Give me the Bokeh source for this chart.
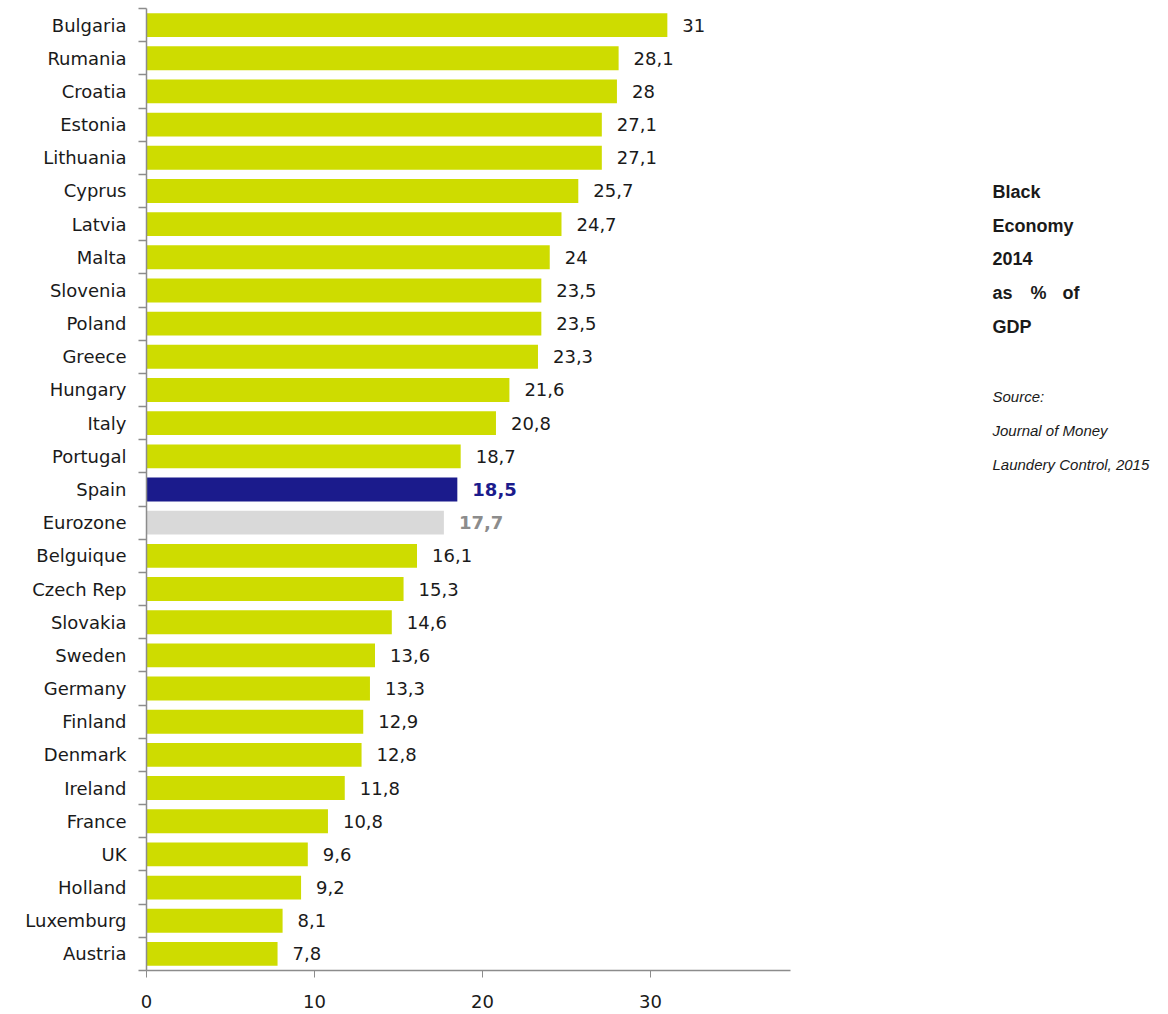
from bokeh.plotting import figure
from bokeh.models import ColumnDataSource, FixedTicker, Range1d
from bokeh.layouts import row
from bokeh.core.properties import value
from bokeh.embed import file_html
from bokeh.resources import INLINE

countries = ["Bulgaria", "Rumania", "Croatia", "Estonia", "Lithuania", "Cyprus", "Latvia",
             "Malta", "Slovenia", "Poland", "Greece", "Hungary", "Italy", "Portugal", "Spain",
             "Eurozone", "Belguique", "Czech Rep", "Slovakia", "Sweden", "Germany", "Finland",
             "Denmark", "Ireland", "France", "UK", "Holland", "Luxemburg", "Austria"]
values = [31, 28.1, 28, 27.1, 27.1, 25.7, 24.7, 24, 23.5, 23.5, 23.3, 21.6, 20.8, 18.7, 18.5,
          17.7, 16.1, 15.3, 14.6, 13.6, 13.3, 12.9, 12.8, 11.8, 10.8, 9.6, 9.2, 8.1, 7.8]
x_ticks = [0, 10, 20, 30]
title_lines = ["Black", "Economy", "2014", "GDP"]
title_words = ["as", "%", "of"]
source_lines = ["Source:", "Journal of Money", "Laundery Control, 2015"]

GREEN = "#CEDC00"
NAVY = "#1B1B8C"
GREY_BAR = "#D9D9D9"
MAIN_FONT = "DejaVu Sans"

n = len(countries)
ypos = [n - i - 0.5 for i in range(n)]
colors, label_colors, styles, labels = [], [], [], []
for c, v in zip(countries, values):
    labels.append(("%g" % v).replace(".", ","))
    if c == "Spain":
        colors.append(NAVY); label_colors.append(NAVY); styles.append("bold")
    elif c == "Eurozone":
        colors.append(GREY_BAR); label_colors.append("#8C8C8C"); styles.append("bold")
    else:
        colors.append(GREEN); label_colors.append("#1A1A1A"); styles.append("normal")

src = ColumnDataSource(dict(y=ypos, v=values, c=colors, lc=label_colors, fs=styles, lab=labels))

TOP, BOTTOM, H = 8, 44, 1014

p = figure(width=800, height=H, output_backend="svg", toolbar_location=None,
           x_range=Range1d(0, 38.33), y_range=Range1d(0, n),
           min_border_left=146, min_border_right=10, min_border_top=TOP, min_border_bottom=BOTTOM)
p.outline_line_color = None
p.xgrid.visible = False
p.ygrid.visible = False
p.background_fill_color = "white"

p.hbar(y="y", left=0, right="v", height=0.72, color="c", line_color=None, source=src)
p.text(x="v", y="y", text="lab", x_offset=15, text_align="left", text_baseline="middle",
       text_color="lc", text_font_style="fs", text_font=value(MAIN_FONT),
       text_font_size="18px", source=src)

AX = "#8C8C8C"
p.xaxis.ticker = FixedTicker(ticks=x_ticks)
p.xaxis.axis_line_color = AX
p.xaxis.axis_line_width = 1.5
p.xaxis.major_tick_line_color = AX
p.xaxis.major_tick_out = 7
p.xaxis.major_tick_in = 0
p.xaxis.minor_tick_line_color = None
p.xaxis.major_label_text_font = MAIN_FONT
p.xaxis.major_label_text_font_size = "18px"
p.xaxis.major_label_text_color = "#1A1A1A"
p.xaxis.major_label_standoff = 17

p.yaxis.ticker = FixedTicker(ticks=ypos, minor_ticks=list(range(n + 1)))
p.yaxis.major_label_overrides = {y: c for y, c in zip(ypos, countries)}
p.yaxis.axis_line_color = AX
p.yaxis.axis_line_width = 1.5
p.yaxis.major_tick_line_color = None
p.yaxis.major_tick_out = 0
p.yaxis.major_tick_in = 0
p.yaxis.minor_tick_line_color = AX
p.yaxis.minor_tick_out = 8
p.yaxis.minor_tick_in = 0
p.yaxis.minor_tick_line_width = 1.5
p.yaxis.major_label_text_font = MAIN_FONT
p.yaxis.major_label_text_font_size = "18px"
p.yaxis.major_label_text_color = "#1A1A1A"
p.yaxis.major_label_standoff = 12

# side panel: frame aligned with the main frame, so map data units to page pixels
side = figure(width=368, height=H, output_backend="svg", toolbar_location=None,
              x_range=Range1d(0, 368), y_range=Range1d(H - BOTTOM, TOP),
              x_axis_location=None, y_axis_location=None,
              min_border_left=0, min_border_right=0, min_border_top=TOP, min_border_bottom=BOTTOM)
side.grid.visible = False
side.outline_line_color = None
TX = 192
side.text(x=[TX] * len(title_lines), y=[191, 225, 258, 326], text=title_lines,
          text_font=value("Liberation Sans"), text_font_style="bold", text_font_size="18px",
          text_color="#1A1A1A", text_baseline="middle", text_align="left")
side.text(x=[TX, TX + 38, TX + 70], y=[292, 292, 292], text=title_words,
          text_font=value("Liberation Sans"), text_font_style="bold", text_font_size="18px",
          text_color="#1A1A1A", text_baseline="middle", text_align="left")
side.text(x=[TX] * len(source_lines), y=[396, 430, 464], text=source_lines,
          text_font=value("Liberation Sans"), text_font_style="italic", text_font_size="15px",
          text_color="#1A1A1A", text_baseline="middle", text_align="left")

layout = row(p, side, spacing=0)
open("out.html", "w").write(file_html(layout, INLINE))
